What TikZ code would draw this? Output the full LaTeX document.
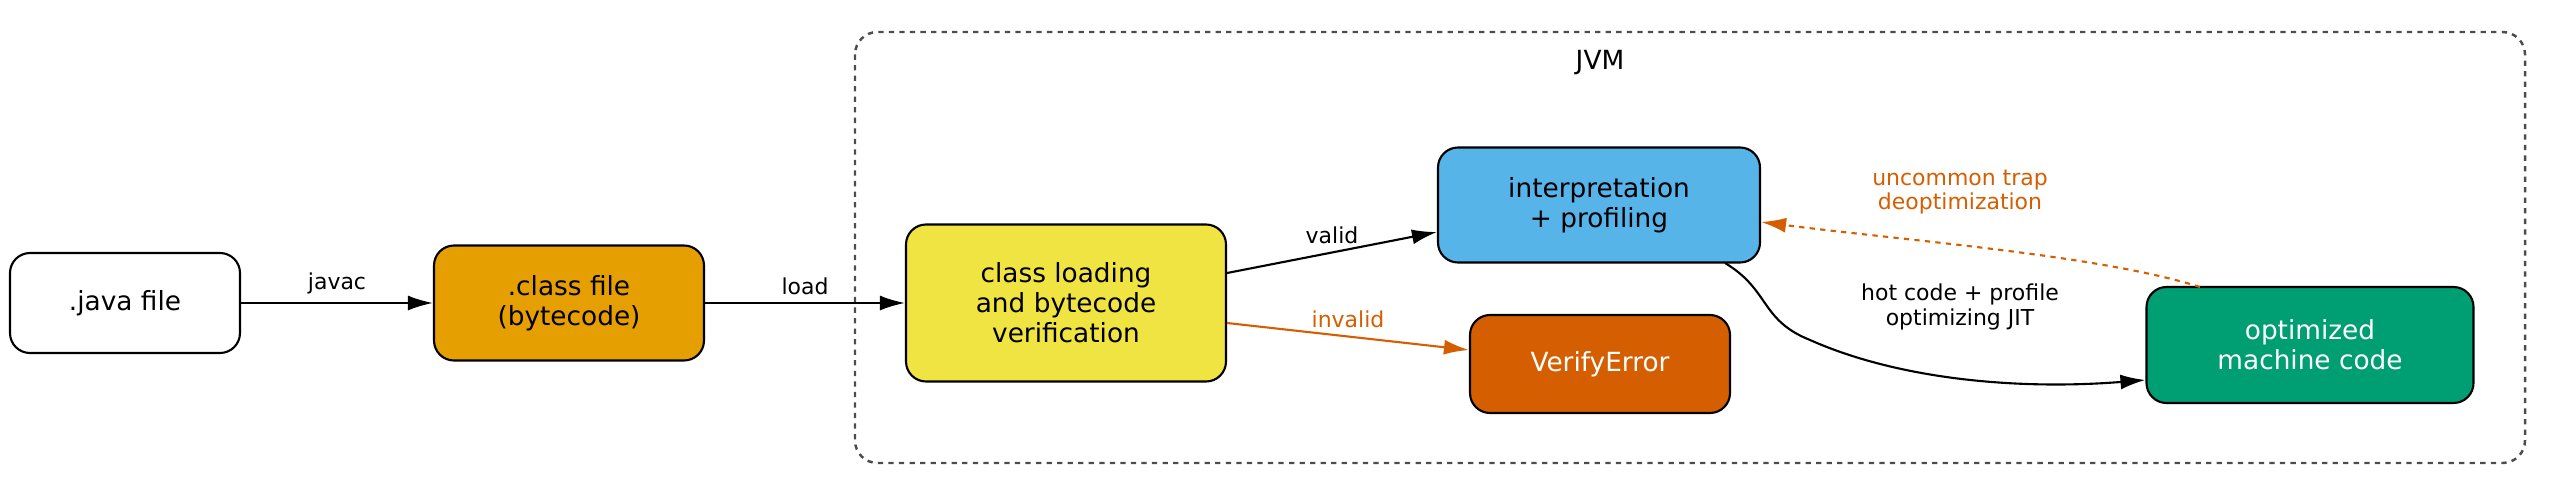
\documentclass[tikz,border=0pt]{standalone}
\usepackage{fontspec}
\setmainfont{DejaVu Sans}
\usetikzlibrary{arrows.meta}
\begin{document}
\begin{tikzpicture}[x=0.02cm,y=-0.02cm,
  box/.style={draw,rounded corners=0.4cm,line width=1.2pt,align=center,font=\fontsize{15}{17}\selectfont,inner sep=0},
  lab/.style={font=\fontsize{12.5}{14}\selectfont,align=center},
  edge/.style={line width=1.2pt,-{Latex[length=0.5cm,width=0.3cm]}},
  oedge/.style={edge,draw=orange1,text=orange1}]
\definecolor{orange1}{HTML}{D55E00}
\useasboundingbox (0,0) rectangle (2553,497);
\draw[dashed,line width=1.4pt,draw=black!70,rounded corners=0.45cm] (855,32) rectangle (2525,463);
\node[font=\fontsize{15}{17}\selectfont] (jvm) at (1600,63) {JVM};
\node[box,minimum width=230*0.02cm,minimum height=100*0.02cm] (java) at (125,303) {.java file};
\node[box,fill={rgb,255:red,230;green,159;blue,0},minimum width=270*0.02cm,minimum height=115*0.02cm] (class) at (569,303) {.class file\\(bytecode)};
\node[box,fill={rgb,255:red,240;green,228;blue,66},minimum width=320*0.02cm,minimum height=157*0.02cm] (load) at (1066,303) {class loading\\and bytecode\\verification};
\node[box,fill={rgb,255:red,86;green,180;blue,233},minimum width=322*0.02cm,minimum height=115*0.02cm] (interp) at (1599,205) {interpretation\\+ profiling};
\node[box,fill=orange1,text=white,minimum width=260*0.02cm,minimum height=98*0.02cm] (verr) at (1600,364) {VerifyError};
\node[box,fill={rgb,255:red,0;green,158;blue,115},text=white,minimum width=327*0.02cm,minimum height=116*0.02cm] (opt) at (2310,345) {optimized\\machine code};
\draw[edge] (java) -- node[lab,above=1pt]{javac} (class);
\draw[edge] (class) -- node[lab,above=1pt]{load} (load);
\draw[edge] (load.east|-0,273) -- node[lab,above=1pt]{valid} (interp.west|-0,232);
\draw[oedge] (load.east|-0,323) -- node[lab,above=1pt]{invalid} (verr.west|-0,350);
\coordinate (hs) at (1725,263);
\draw[edge] (hs) .. controls (1770,290) and (1760,320) .. (1810,340) .. controls (1900,380) and (2020,390) .. (opt.west|-0,380);
\node[lab] (hot) at (1960,307) {hot code + profile\\optimizing JIT};
\draw[oedge,dashed] (2200,287) .. controls (2100,255) and (1900,240) .. (interp.east|-0,222);
\node[lab,text=orange1] (trap) at (1960,192) {uncommon trap\\deoptimization};
\end{tikzpicture}
\end{document}
